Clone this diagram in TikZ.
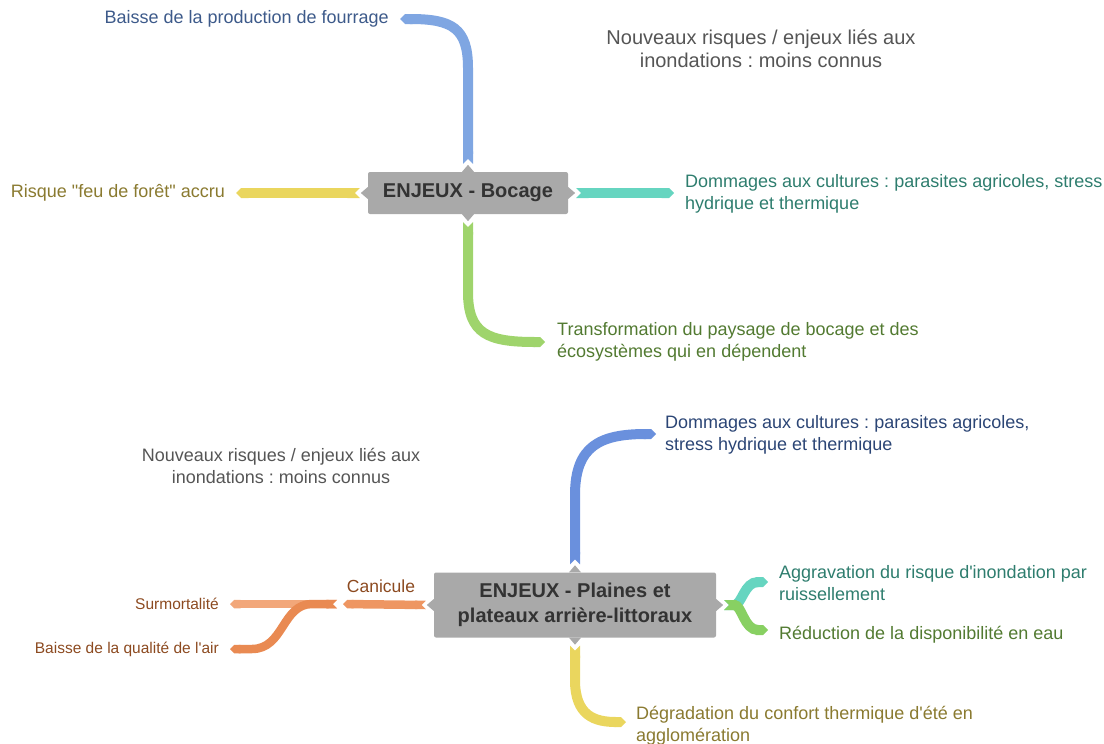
\documentclass[tikz,border=0pt]{standalone}
\usepackage{fontspec}
\setmainfont{Liberation Sans}[Ligatures=TeXOff]
\usetikzlibrary{arrows.meta}
\frenchspacing

\definecolor{hubgray}{HTML}{A9A9A9}
\definecolor{hubtext}{HTML}{333333}
\definecolor{notegray}{HTML}{555555}
\definecolor{bBlueA}{HTML}{7FA6E2}
\definecolor{bBlueB}{HTML}{6A90DD}
\definecolor{bYellow}{HTML}{EAD65E}
\definecolor{bTeal}{HTML}{66D5C0}
\definecolor{bGreen}{HTML}{9FD46C}
\definecolor{bGreenB}{HTML}{88D062}
\definecolor{bOrange}{HTML}{EE9662}
\definecolor{bOrangeL}{HTML}{F2A77A}
\definecolor{bOrangeD}{HTML}{E98A52}
\definecolor{tBlueA}{HTML}{3D5A8A}
\definecolor{tBlueB}{HTML}{2B4575}
\definecolor{tOlive}{HTML}{8A7A30}
\definecolor{tTeal}{HTML}{2E7D6E}
\definecolor{tGreen}{HTML}{527A31}
\definecolor{tBrown}{HTML}{8C4A20}

\begin{document}
\begin{tikzpicture}[x=1pt,y=-1pt,
  hub/.style={fill=hubgray, rounded corners=2pt, text=hubtext, align=center,
    inner sep=0pt, font=\fontsize{20}{25}\selectfont\bfseries},
  leaf/.style={inner sep=0pt, align=left, font=\fontsize{18}{22}\selectfont},
  smallleaf/.style={inner sep=0pt, align=left, font=\fontsize{15.5}{19}\selectfont},
  note/.style={inner sep=0pt, align=center, text=notegray},
  branch/.style={line width=10pt, {Triangle Cap[reversed]}-{Triangle Cap}},
  thinbranch/.style={line width=8.5pt, {Triangle Cap[reversed]}-{Triangle Cap}}
]
\useasboundingbox (0,0) rectangle (1104,744);

% ---------- Bocage ----------
\node[hub, minimum width=200pt, minimum height=42pt] (boc) at (468,193) {ENJEUX - Bocage};
\fill[hubgray] ([xshift=-6pt]boc.north) -- ([yshift=7pt]boc.north) -- ([xshift=6pt]boc.north) -- cycle;
\fill[hubgray] ([xshift=-6pt]boc.south) -- ([yshift=-7pt]boc.south) -- ([xshift=6pt]boc.south) -- cycle;
\fill[hubgray] ([yshift=-6pt]boc.west) -- ([xshift=-7pt]boc.west) -- ([yshift=6pt]boc.west) -- cycle;
\fill[hubgray] ([yshift=-6pt]boc.east) -- ([xshift=7pt]boc.east) -- ([yshift=6pt]boc.east) -- cycle;

\coordinate (tb1) at (400,19);
\coordinate (ty1) at (236,193);
\coordinate (tt1) at (674,193);
\coordinate (tg1) at (545,342);

\node[leaf, text=tBlueA, anchor=east] (lb1) at (389,19) {Baisse de la production de fourrage};
\node[leaf, text=tOlive, anchor=east] (ly1) at (225,193) {Risque "feu de forêt" accru};
\node[leaf, text=tTeal, anchor=west] (lt1) at (685,194) {Dommages aux cultures : parasites agricoles, stress\\hydrique et thermique};
\node[leaf, text=tGreen, anchor=west] (lg1) at (557,342) {Transformation du paysage de bocage et des\\écosystèmes qui en dépendent};
\node[note, font=\fontsize{20}{23}\selectfont] (n1) at (761,49) {Nouveaux risques / enjeux liés aux\\inondations : moins connus};

\draw[branch, bBlueA] ([yshift=8pt]boc.north) -- (468,68) .. controls (468,28) and (452,19) .. (tb1);
\draw[branch, bYellow] ([xshift=-8pt]boc.west) -- (ty1);
\draw[branch, bTeal] ([xshift=8pt]boc.east) -- (tt1);
\draw[branch, bGreen] ([yshift=-8pt]boc.south) -- (468,292) .. controls (468,334) and (488,342) .. (tg1);

% ---------- Plaines ----------
\node[hub, minimum width=282pt, minimum height=65pt] (pla) at (575,605) {ENJEUX - Plaines et\\plateaux arrière-littoraux};
\fill[hubgray] ([xshift=-6pt]pla.north) -- ([yshift=7pt]pla.north) -- ([xshift=6pt]pla.north) -- cycle;
\fill[hubgray] ([xshift=-6pt]pla.south) -- ([yshift=-7pt]pla.south) -- ([xshift=6pt]pla.south) -- cycle;
\fill[hubgray] ([yshift=-6pt]pla.west) -- ([xshift=-7pt]pla.west) -- ([yshift=6pt]pla.west) -- cycle;
\fill[hubgray] ([yshift=-6pt]pla.east) -- ([xshift=7pt]pla.east) -- ([yshift=6pt]pla.east) -- cycle;

\coordinate (tb2) at (656,434);
\coordinate (ty2) at (626,722);
\coordinate (tt2) at (768,582);
\coordinate (tg2) at (768,630);
\coordinate (cn) at (343,604);
\coordinate (cs) at (337,604);
\coordinate (ts) at (230,604);
\coordinate (ta) at (230,649);

\node[leaf, text=tBlueB, anchor=west] (lb2) at (665,435) {Dommages aux cultures : parasites agricoles,\\stress hydrique et thermique};
\node[leaf, text=tTeal, anchor=west] (lt2) at (779,583) {Aggravation du risque d'inondation par\\ruissellement};
\node[leaf, text=tGreen, anchor=west] (lg2) at (779,635) {Réduction de la disponibilité en eau};
\node[leaf, text=tOlive, anchor=west] (ly2) at (636,726) {Dégradation du confort thermique d'été en\\agglomération};
\node[note, font=\fontsize{18}{22}\selectfont] (n2) at (281,466) {Nouveaux risques / enjeux liés aux\\inondations : moins connus};
\node[inner sep=0pt, text=tBrown, font=\fontsize{17.5}{21}\selectfont] (can) at (381,586) {Canicule};
\node[smallleaf, text=tBrown, anchor=east] (ls) at (219,604) {Surmortalité};
\node[smallleaf, text=tBrown, anchor=east] (la) at (219,649) {Baisse de la qualité de l'air};

\draw[branch, bBlueB] ([yshift=8pt]pla.north) -- (575,495) .. controls (575,446) and (600,434) .. (tb2);
\draw[branch, bYellow] ([yshift=-8pt]pla.south) -- (575,680) .. controls (575,716) and (595,722) .. (ty2);
\draw[branch, bTeal] ([xshift=8pt]pla.east) .. controls (742,605) and (744,582) .. (tt2);
\draw[branch, bGreenB] ([xshift=8pt]pla.east) .. controls (742,605) and (744,630) .. (tg2);
\draw[thinbranch, bOrange] ([xshift=-8pt]pla.west) -- (cn);
\draw[thinbranch, bOrangeL] (cs) -- (ts);
\draw[thinbranch, bOrangeD] (cs) -- (312,604) .. controls (282,604) and (284,649) .. (252,649) -- (ta);
\end{tikzpicture}
\end{document}
